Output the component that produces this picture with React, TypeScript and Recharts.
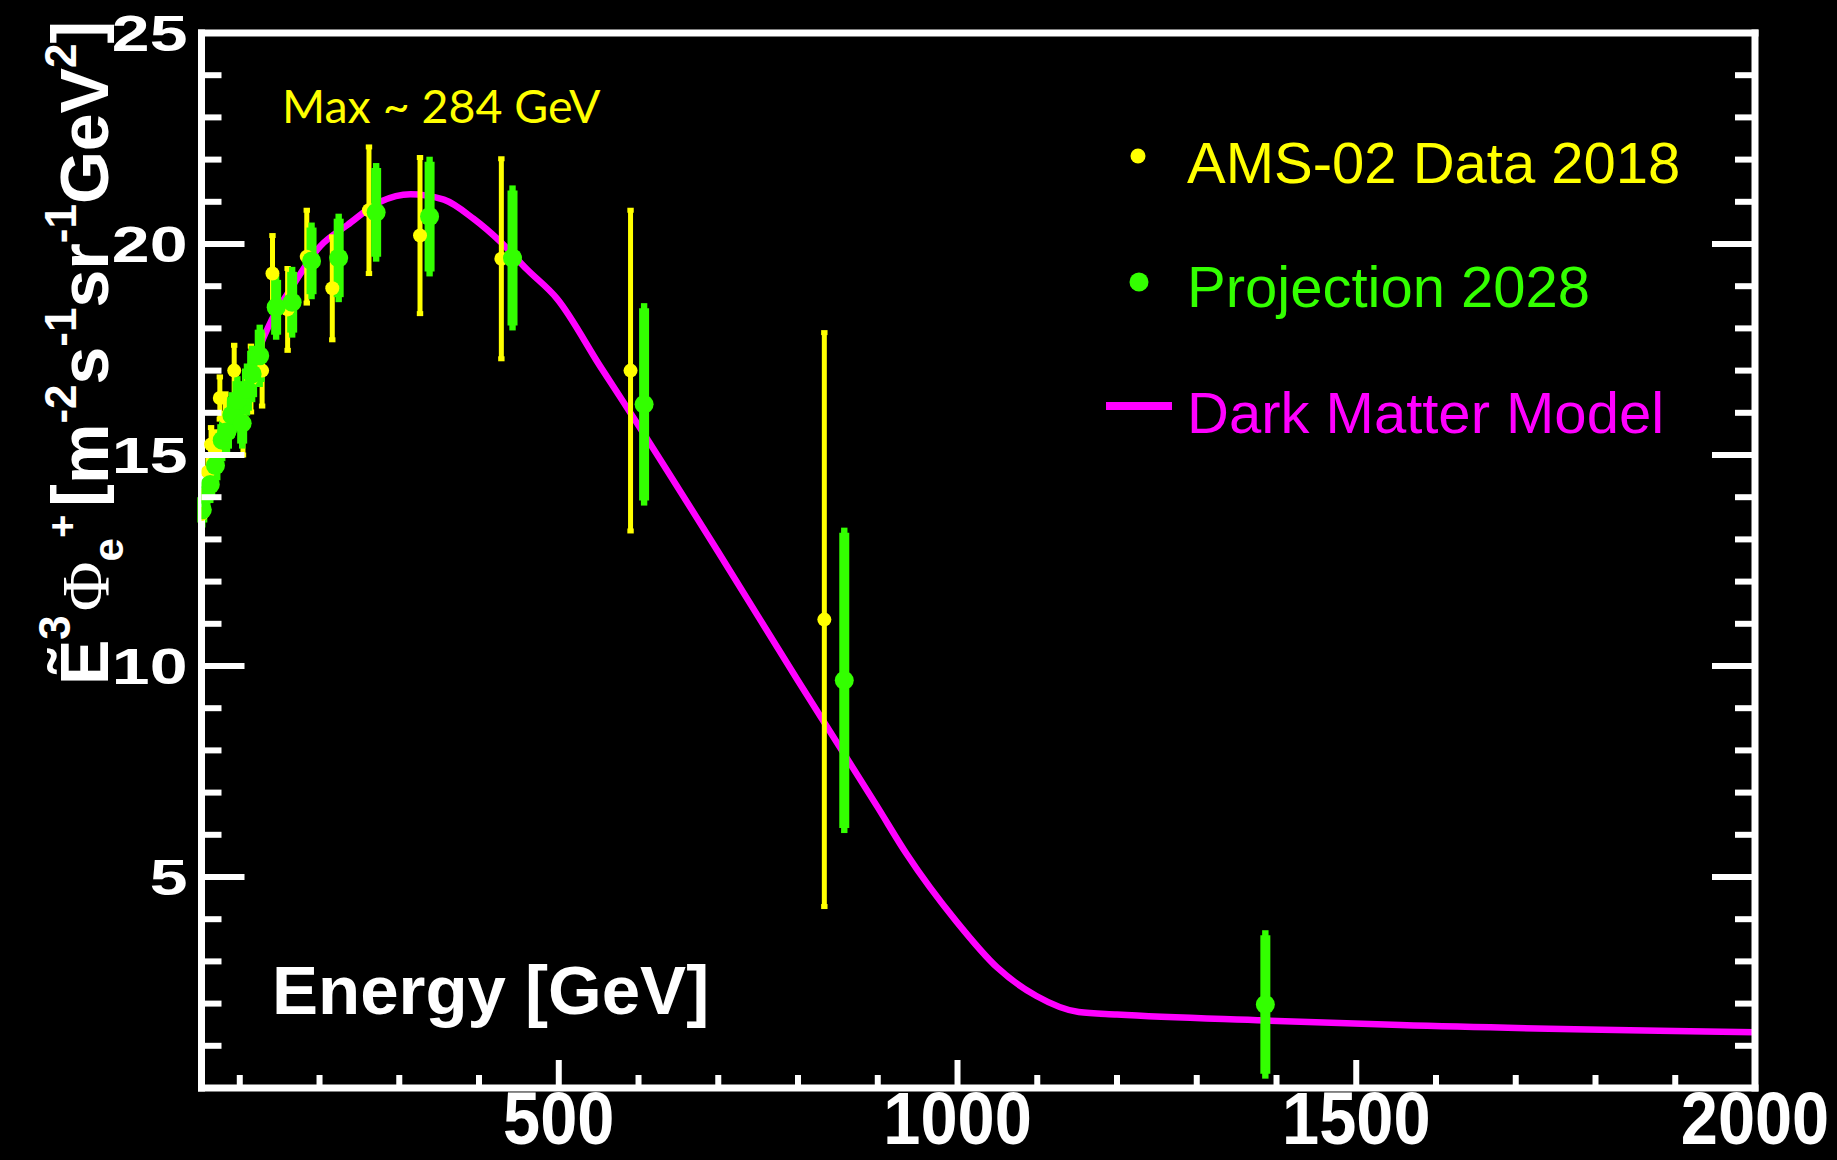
import React from 'react';
import { ComposedChart, Line, Scatter, XAxis, YAxis, ErrorBar, Legend } from 'recharts';

// Series names and colours
const AMS_NAME = 'AMS-02 Data 2018';
const PROJ_NAME = 'Projection 2028';
const MODEL_NAME = 'Dark Matter Model';
const AMS_COLOR = '#ffff00';
const PROJ_COLOR = '#33ff00';
const MODEL_COLOR = '#ff00ff';

// AMS-02 (2018) positron flux scaled by E^3: energy [GeV], value, 1-sigma error
const amsEnergy = [52, 56, 60, 64, 69, 75, 82, 93, 104, 114, 128, 141, 160, 184, 216, 262, 326, 428, 590, 833];
const amsValue = [13.6, 14.05, 14.6, 15.25, 15.1, 16.35, 15.9, 17.0, 15.8, 16.8, 17.0, 19.3, 18.45, 19.7, 18.95, 20.8, 20.2, 19.65, 17.0, 11.1];
const amsError = [0.35, 0.35, 0.4, 0.4, 0.45, 0.5, 0.55, 0.6, 0.8, 0.78, 0.84, 0.9, 0.97, 1.1, 1.22, 1.5, 1.85, 2.37, 3.8, 6.8];

// Projected measurement for 2028
const projEnergy = [53, 57, 63, 69.5, 78, 84, 90, 97, 103, 109, 115.5, 125, 145.6, 165.7, 190, 224, 271, 338, 442, 607, 858, 1386];
const projValue = [13.7, 14.05, 14.3, 14.75, 15.35, 15.55, 15.95, 16.3, 15.75, 16.55, 16.92, 17.35, 18.5, 18.62, 19.6, 19.67, 20.75, 20.65, 19.67, 16.2, 9.66, 1.98];
const projError = [0.3, 0.3, 0.32, 0.35, 0.38, 0.4, 0.42, 0.45, 0.48, 0.5, 0.55, 0.62, 0.65, 0.72, 0.79, 0.93, 1.05, 1.3, 1.6, 2.28, 3.5, 1.64];

// Dark matter model curve
const modelEnergy = [52, 60, 70, 80, 90, 100, 115, 126, 140, 164, 201, 235, 276, 314, 356, 393, 427, 460, 498, 552, 600, 700, 800, 900, 936, 998, 1050, 1099, 1152, 1200, 1386, 1555, 2000];
const modelValue = [13.7, 14.2, 14.8, 15.35, 15.85, 16.3, 16.95, 17.6, 18.2, 18.94, 19.95, 20.45, 21.0, 21.18, 21.05, 20.6, 20.05, 19.4, 18.7, 17.1, 15.7, 12.7, 9.65, 6.65, 5.55, 3.96, 2.85, 2.18, 1.8, 1.74, 1.6, 1.49, 1.32];

// Axis ticks
const xTicks = [100, 200, 300, 400, 500, 600, 700, 800, 900, 1000, 1100, 1200, 1300, 1400, 1500, 1600, 1700, 1800, 1900, 2000];
const xMajorStep = 500;
const yTicks = [1, 2, 3, 4, 5, 6, 7, 8, 9, 10, 11, 12, 13, 14, 15, 16, 17, 18, 19, 20, 21, 22, 23, 24, 25];
const yMajorStep = 5;

const xTitle = 'Energy [GeV]';
const peakNote = 'Max ~ 284 GeV';

const amsData = amsEnergy.map((e, i) => ({ e, v: amsValue[i], err: amsError[i] }));
const projData = projEnergy.map((e, i) => ({ e, v: projValue[i], err: projError[i] }));
const modelData = modelEnergy.map((e, i) => ({ e, v: modelValue[i] }));

const SANS = "'Liberation Sans', Arial, Helvetica, sans-serif";
const SERIF = "'Liberation Serif', 'Times New Roman', serif";
const WHITE = '#ffffff';
const TICK_W = 6;

const frameLine = { stroke: WHITE, strokeWidth: 7, strokeLinecap: 'square' as const };

const BottomTick = (props: any) => {
  const { x, y, payload } = props;
  const major = payload.value % xMajorStep === 0;
  return (
    <g>
      <line x1={x} x2={x} y1={y} y2={y - (major ? 28 : 13)} stroke={WHITE} strokeWidth={TICK_W} />
      {major && (
        <text
          transform={`translate(${x},${y + 56}) scale(0.89,1)`}
          textAnchor="middle"
          fill={WHITE}
          fontFamily={SANS}
          fontWeight="bold"
          fontSize={75}
        >
          {payload.value}
        </text>
      )}
    </g>
  );
};

const TopTick = (props: any) => {
  const { x, y, payload } = props;
  const major = payload.value % xMajorStep === 0;
  return <line x1={x} x2={x} y1={y} y2={y + (major ? 28 : 13)} stroke={WHITE} strokeWidth={TICK_W} />;
};

const LeftTick = (props: any) => {
  const { x, y, payload } = props;
  const major = payload.value % yMajorStep === 0;
  return (
    <g>
      <line x1={x} x2={x + (major ? 43 : 20)} y1={y} y2={y} stroke={WHITE} strokeWidth={TICK_W} />
      {major && (
        <text
          transform={`translate(${x - 14},${y + 18}) scale(1.36,1)`}
          textAnchor="end"
          fill={WHITE}
          fontFamily={SANS}
          fontWeight="bold"
          fontSize={50}
        >
          {payload.value}
        </text>
      )}
    </g>
  );
};

const RightTick = (props: any) => {
  const { x, y, payload } = props;
  const major = payload.value % yMajorStep === 0;
  return <line x1={x} x2={x - (major ? 43 : 20)} y1={y} y2={y} stroke={WHITE} strokeWidth={TICK_W} />;
};

const amsDot = (p: any) => <circle cx={p.cx} cy={p.cy} r={7} fill={AMS_COLOR} />;
const projDot = (p: any) => <circle cx={p.cx} cy={p.cy} r={9.5} fill={PROJ_COLOR} />;

const LegendBox = () => (
  <svg width={640} height={340} style={{ overflow: 'visible', display: 'block' }}>
    <circle cx={38} cy={36} r={7.5} fill={AMS_COLOR} />
    <text x={87} y={63} fill={AMS_COLOR} fontFamily={SANS} fontSize={58}>{AMS_NAME}</text>
    <circle cx={39} cy={162} r={9.5} fill={PROJ_COLOR} />
    <text x={87} y={187} fill={PROJ_COLOR} fontFamily={SANS} fontSize={58}>{PROJ_NAME}</text>
    <line x1={6} x2={72} y1={286} y2={286} stroke={MODEL_COLOR} strokeWidth={8} />
    <text x={87} y={313} fill={MODEL_COLOR} fontFamily={SANS} fontSize={58}>{MODEL_NAME}</text>
  </svg>
);

export default function App() {
  return (
    <div style={{ position: 'absolute', left: 0, top: 0, width: 1837, height: 1160, background: '#000' }}>
      <ComposedChart
        width={1837}
        height={1160}
        margin={{ top: 32, right: 81, bottom: 71, left: 200.5 }}
        style={{ background: '#000' }}
      >
        <XAxis
          xAxisId={0}
          dataKey="e"
          type="number"
          domain={[52, 2000]}
          allowDataOverflow
          ticks={xTicks}
          interval={0}
          height={1}
          tickSize={0}
          tickMargin={0}
          tickLine={false}
          axisLine={frameLine}
          tick={<BottomTick />}
        />
        <XAxis
          xAxisId="top"
          orientation="top"
          type="number"
          domain={[52, 2000]}
          allowDataOverflow
          ticks={xTicks}
          interval={0}
          height={1}
          tickSize={0}
          tickMargin={0}
          tickLine={false}
          axisLine={frameLine}
          tick={<TopTick />}
        />
        <YAxis
          yAxisId={0}
          dataKey="v"
          type="number"
          domain={[0, 25]}
          allowDataOverflow
          ticks={yTicks}
          interval={0}
          width={1}
          tickSize={0}
          tickMargin={0}
          tickLine={false}
          axisLine={frameLine}
          tick={<LeftTick />}
        />
        <YAxis
          yAxisId="right"
          orientation="right"
          type="number"
          domain={[0, 25]}
          allowDataOverflow
          ticks={yTicks}
          interval={0}
          width={1}
          tickSize={0}
          tickMargin={0}
          tickLine={false}
          axisLine={frameLine}
          tick={<RightTick />}
        />
        <Line
          data={modelData}
          dataKey="v"
          name={MODEL_NAME}
          type="monotone"
          stroke={MODEL_COLOR}
          strokeWidth={6.5}
          dot={false}
          activeDot={false}
          isAnimationActive={false}
        />
        <Scatter data={amsData} dataKey="v" name={AMS_NAME} shape={amsDot} isAnimationActive={false}>
          <ErrorBar dataKey="err" direction="y" width={3.2} strokeWidth={5} stroke={AMS_COLOR} isAnimationActive={false} />
        </Scatter>
        <Scatter data={projData} dataKey="v" name={PROJ_NAME} shape={projDot} isAnimationActive={false}>
          <ErrorBar dataKey="err" direction="y" width={3.2} strokeWidth={10} stroke={PROJ_COLOR} isAnimationActive={false} />
        </Scatter>
        <Legend
          layout="horizontal"
          verticalAlign="middle"
          align="center"
          content={<LegendBox />}
          wrapperStyle={{ left: 1100, top: 120, width: 640, height: 340 }}
        />
        <text x={272} y={1014} fill={WHITE} fontFamily={SANS} fontWeight="bold" fontSize={69}>
          {xTitle}
        </text>
        <text x={282} y={123} fill={AMS_COLOR} fontFamily="Lato, 'Open Sans', sans-serif" fontSize={46.5}>
          {peakNote}
        </text>
        <text transform="translate(108,685) rotate(-90)" fill={WHITE} fontFamily={SANS} fontWeight="bold" fontSize={68}>
          <tspan>Ẽ</tspan>
          <tspan fontSize={44} dy={-38}>3</tspan>
          <tspan fontFamily={SERIF} fontWeight="normal" fontSize={68} dy={38} dx={4}>Φ</tspan>
          <tspan fontSize={42} dy={15}>e</tspan>
          <tspan fontSize={40} dy={-47}>+</tspan>
          <tspan dy={24} dx={8}>[</tspan>
          <tspan dy={8}>m</tspan>
          <tspan fontSize={44} dy={-32}>-2</tspan>
          <tspan dy={32}>s</tspan>
          <tspan fontSize={44} dy={-32}>-1</tspan>
          <tspan dy={32}>sr</tspan>
          <tspan fontSize={44} dy={-32}>-1</tspan>
          <tspan dy={32}>GeV</tspan>
          <tspan fontSize={44} dy={-32}>2</tspan>
          <tspan dy={24}>]</tspan>
        </text>
      </ComposedChart>
    </div>
  );
}
